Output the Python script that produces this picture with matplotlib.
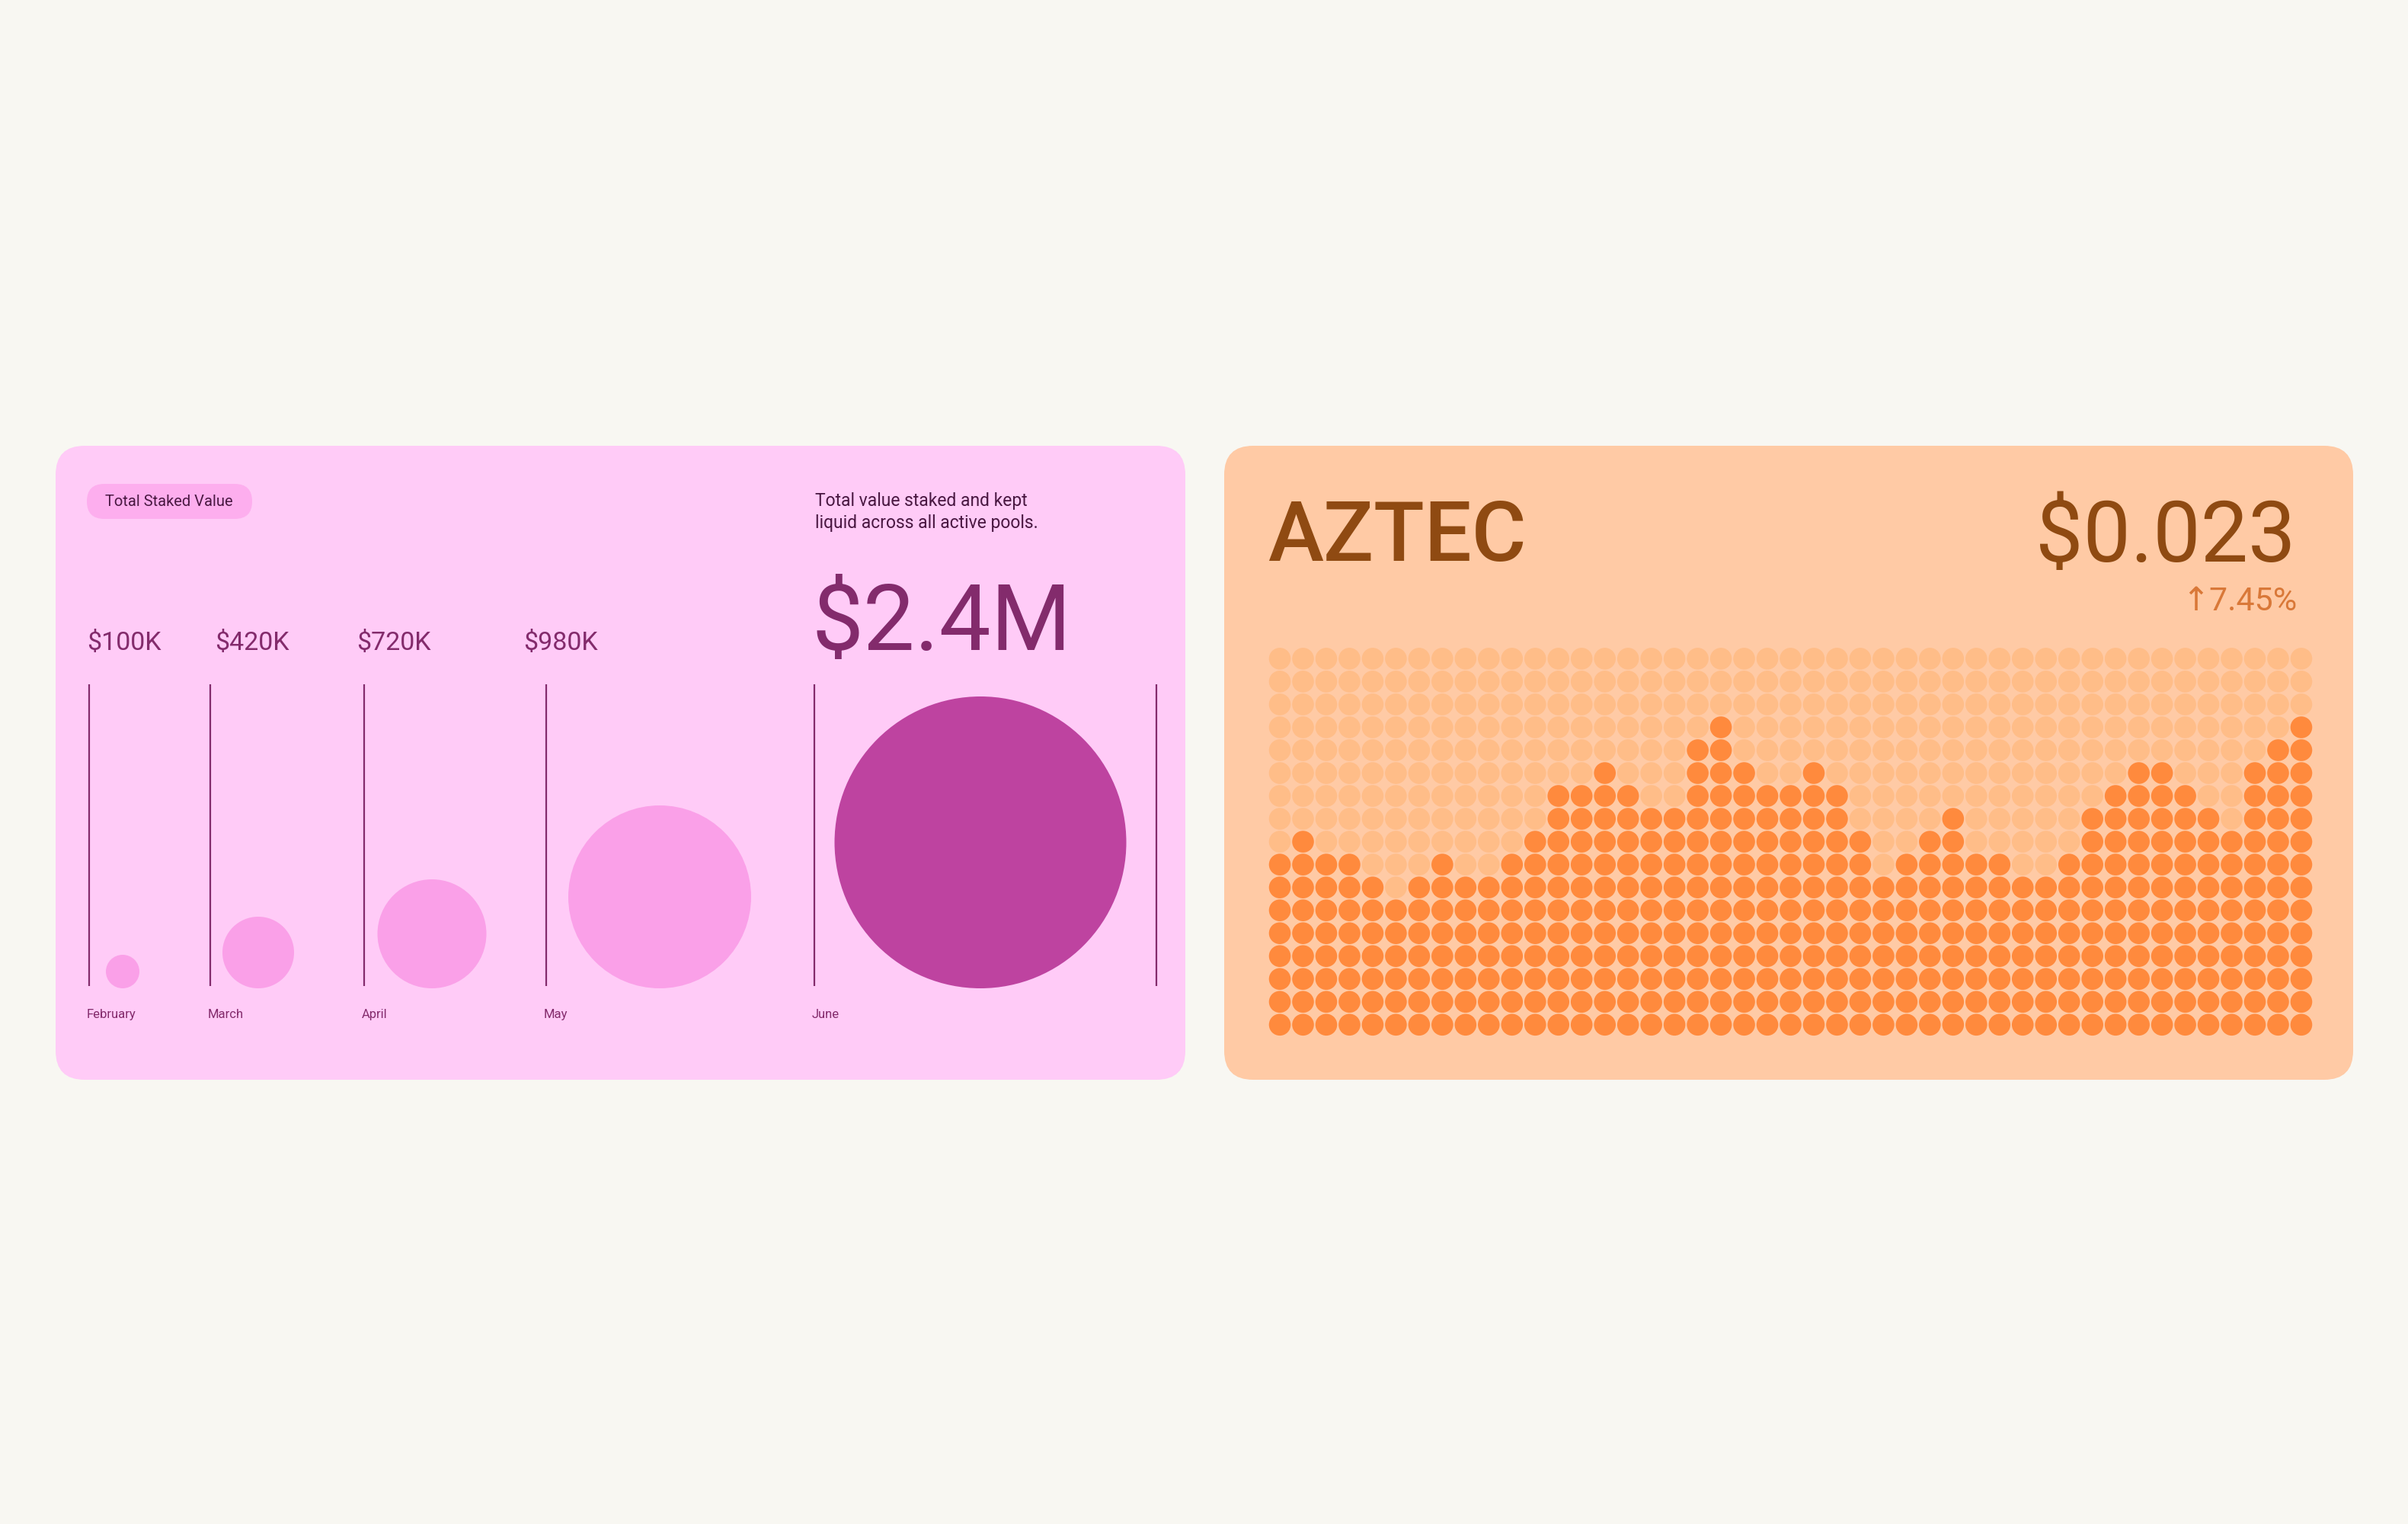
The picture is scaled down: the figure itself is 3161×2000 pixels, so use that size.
import matplotlib.pyplot as plt
from matplotlib.patches import FancyBboxPatch, Circle

# ---- data ----
months = ["February", "March", "April", "May", "June"]
value_labels = ["$100K", "$420K", "$720K", "$980K", "$2.4M"]
staked_k = [100, 420, 720, 980, 2400]
# bubble diameters as drawn (px), one per month
bubble_px = [44, 94, 143, 240, 383]

token = "AZTEC"
price_label = "$0.023"
change_label = "\u21917.45%"
# filled dots per column (out of 17 rows)
price_dots = [8, 9, 8, 8, 7, 6, 7, 8, 7, 7,
              8, 9, 11, 11, 12, 11, 10, 10, 13, 14,
              12, 11, 11, 12, 11, 9, 7, 8, 9, 10,
              8, 8, 7, 7, 8, 10, 11, 12, 12, 11,
              10, 9, 12, 13, 14]
n_rows = 17

# ---- colours ----
BG = "#F8F7F2"
PINK_CARD = "#FFCBF7"
PILL = "#FDAEEE"
BUBBLE = "#FAA0E8"
BUBBLE_HI = "#BE43A0"
PURPLE = "#832B6C"
PURPLE_DARK = "#4A1842"
PEACH_CARD = "#FFCAA5"
DOT_OFF = "#FFBD88"
DOT_ON = "#FF8A3D"
BROWN = "#8F4A12"
ORANGE_TXT = "#D97838"

W, H = 3161, 2000
fig = plt.figure(figsize=(W / 100, H / 100), dpi=100)
fig.patch.set_facecolor(BG)

# full-figure axes in pixel coordinates (y grows downwards)
ax = fig.add_axes([0, 0, 1, 1])
ax.set_xlim(0, W)
ax.set_ylim(H, 0)
ax.axis("off")

FONT = ["Roboto", "DejaVu Sans"]

# cards
ax.add_patch(FancyBboxPatch((73, 585), 1483, 832,
                            boxstyle="round,pad=0,rounding_size=38",
                            fc=PINK_CARD, ec="none"))
ax.add_patch(FancyBboxPatch((1607, 585), 1482, 832,
                            boxstyle="round,pad=0,rounding_size=38",
                            fc=PEACH_CARD, ec="none"))

# ---- left card: staked value bubbles ----
ax.add_patch(FancyBboxPatch((114, 635), 217, 46,
                            boxstyle="round,pad=0,rounding_size=23",
                            fc=PILL, ec="none"))
ax.text(222, 659, "Total Staked Value", fontsize=14.5, color=PURPLE_DARK,
        ha="center", va="center", family=FONT)

ax.text(1070, 664, "Total value staked and kept", fontsize=16.5,
        color=PURPLE_DARK, ha="left", va="baseline", family=FONT)
ax.text(1070, 693, "liquid across all active pools.", fontsize=16.5,
        color=PURPLE_DARK, ha="left", va="baseline", family=FONT)

line_x = [117, 276, 478, 717, 1069]
label_x = [114, 282, 468, 687]
bubble_cx = [161, 339, 567, 866, 1287]
base_y = 1297

for i, (m, lab, d) in enumerate(zip(months, value_labels, bubble_px)):
    ax.plot([line_x[i], line_x[i]], [898, 1294], color=PURPLE, lw=1.6,
            solid_capstyle="butt")
    col = BUBBLE_HI if i == len(months) - 1 else BUBBLE
    ax.add_patch(Circle((bubble_cx[i], base_y - d / 2), d / 2,
                        fc=col, ec="none"))
    ax.text(line_x[i] - 3, 1336, m, fontsize=12, color=PURPLE,
            ha="left", va="baseline", family=FONT)
    if i < len(months) - 1:
        ax.text(label_x[i], 853, lab, fontsize=24.5, color=PURPLE,
                ha="left", va="baseline", family=FONT)
    else:
        ax.text(1066, 853, lab, fontsize=87, color=PURPLE,
                ha="left", va="baseline", family=FONT)
# closing line at the right
ax.plot([1518, 1518], [898, 1294], color=PURPLE, lw=1.6,
        solid_capstyle="butt")

# ---- right card: token price ----
ax.text(1664, 736, token, fontsize=79, color=BROWN, fontweight="medium",
        ha="left", va="baseline", family=FONT)
ax.text(3013, 737, price_label, fontsize=80, color=BROWN,
        ha="right", va="baseline", family=FONT)
ax.text(3015, 801, change_label, fontsize=31, color=ORANGE_TXT,
        ha="right", va="baseline", family=FONT)

# dot matrix axes
n_cols = len(price_dots)
x0, x1 = 1664.8, 3036.2
ytop, ybot = 849.4, 1359.8
dax = fig.add_axes([x0 / W, (H - ybot) / H, (x1 - x0) / W, (ybot - ytop) / H])
dax.set_xlim(-0.5, n_cols - 0.5)
dax.set_ylim(-0.5, n_rows - 0.5)
dax.axis("off")

xs, ys, cs = [], [], []
for c, h in enumerate(price_dots):
    for r in range(n_rows):
        xs.append(c)
        ys.append(r)
        cs.append(DOT_ON if r < h else DOT_OFF)
dot_pt = 28.6 * 72 / 100
dax.scatter(xs, ys, s=dot_pt ** 2, c=cs, marker="o", linewidths=0)

fig.savefig("out.png", dpi=100, facecolor=BG)
